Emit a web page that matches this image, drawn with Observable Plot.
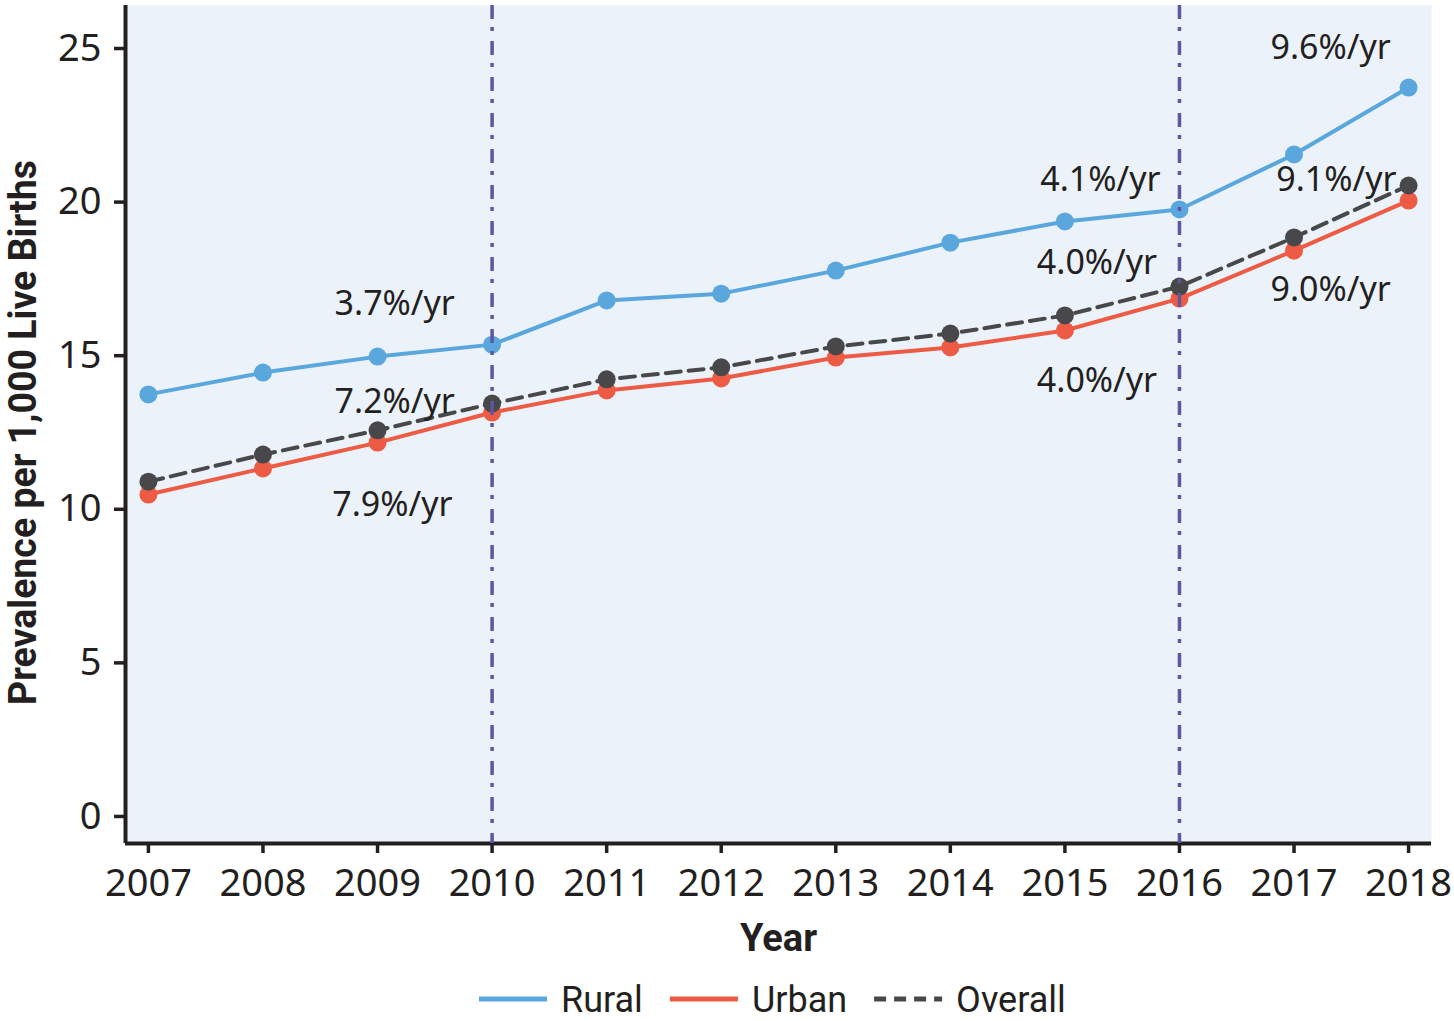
<!DOCTYPE html>
<html>
<head>
<meta charset="utf-8">
<script src="https://cdn.jsdelivr.net/npm/d3@7"></script>
<script src="https://cdn.jsdelivr.net/npm/@observablehq/plot@0.6"></script>
<style>
  body { margin: 0; background: white; }
  #wrap { position: relative; width: 1454px; height: 1021px; overflow: hidden; }
  svg { display: block; }
</style>
</head>
<body>
<div id="wrap">
  <div id="chart"></div>
  <div id="legend"></div>
</div>
<script>
const years = [2007, 2008, 2009, 2010, 2011, 2012, 2013, 2014, 2015, 2016, 2017, 2018];
const rural = [13.74, 14.45, 14.97, 15.36, 16.80, 17.02, 17.77, 18.68, 19.37, 19.76, 21.55, 23.73];
const urban = [10.48, 11.33, 12.17, 13.15, 13.87, 14.26, 14.94, 15.27, 15.82, 16.86, 18.42, 20.05];
const overall = [10.90, 11.78, 12.57, 13.44, 14.23, 14.62, 15.30, 15.72, 16.31, 17.25, 18.85, 20.54];
const yTicks = [0, 5, 10, 15, 20, 25];
const breakYears = [2010, 2016];
const seriesNames = ["Rural", "Urban", "Overall"];
const seriesColors = ["#5AA7DD", "#EE5B45", "#48484A"];
const annoText = ["3.7%/yr", "7.2%/yr", "7.9%/yr", "4.1%/yr", "4.0%/yr", "4.0%/yr", "9.6%/yr", "9.1%/yr", "9.0%/yr"];
const annoX = [2009.15, 2009.15, 2009.13, 2015.31, 2015.28, 2015.28, 2017.32, 2017.37, 2017.32];
const annoY = [16.67, 13.48, 10.12, 20.70, 18.00, 14.16, 25.00, 20.70, 17.12];
const yTitle = "Prevalence per 1,000 Live Births";
const xTitle = "Year";

const xDomain = [2006.8, 2018.2];
const yDomain = [-0.88, 26.4];

const toRows = (vals) => years.map((yr, i) => ({year: yr, value: vals[i]}));
const ruralRows = toRows(rural), urbanRows = toRows(urban), overallRows = toRows(overall);
const annos = annoText.map((t, i) => ({t, x: annoX[i], y: annoY[i]}));
const ink = "#231f20";
const condensed = "Roboto, 'Noto Sans', sans-serif";

const chart = Plot.plot({
  width: 1454, height: 965,
  marginLeft: 125, marginRight: 23, marginTop: 5, marginBottom: 122,
  x: {domain: xDomain},
  y: {domain: yDomain},
  style: {fontFamily: "'Noto Sans', sans-serif", fontSize: "38px", color: ink, background: "white", overflow: "visible"},
  marks: [
    Plot.frame({fill: "#ECF2FA", stroke: null}),
    Plot.axisY({ticks: yTicks, tickSize: 11, tickPadding: 13, tickFormat: d => String(d), strokeWidth: 3.5, stroke: ink, fill: ink, label: null}),
    Plot.axisX({ticks: years, tickSize: 10, tickPadding: 16, tickFormat: d => String(d), strokeWidth: 3.5, stroke: ink, fill: ink, label: null}),
    Plot.ruleX([xDomain[0]], {stroke: ink, strokeWidth: 4}),
    Plot.ruleY([yDomain[0]], {stroke: ink, strokeWidth: 4}),
    Plot.line(ruralRows, {x: "year", y: "value", stroke: seriesColors[0], strokeWidth: 4}),
    Plot.dot(ruralRows, {x: "year", y: "value", fill: seriesColors[0], r: 9}),
    Plot.line(urbanRows, {x: "year", y: "value", stroke: seriesColors[1], strokeWidth: 4}),
    Plot.dot(urbanRows, {x: "year", y: "value", fill: seriesColors[1], r: 9}),
    Plot.line(overallRows, {x: "year", y: "value", stroke: seriesColors[2], strokeWidth: 4, strokeDasharray: "15,8"}),
    Plot.dot(overallRows, {x: "year", y: "value", fill: seriesColors[2], r: 9}),
    Plot.ruleX(breakYears, {stroke: "#5F56A2", strokeWidth: 3.5, strokeDasharray: "14,8,4,10"}),
    Plot.text(annos, {x: "x", y: "y", text: "t", fontSize: 34, fill: ink}),
    Plot.text([xTitle], {frameAnchor: "bottom", dy: 107, fontSize: 38, fontWeight: "bold", fill: ink, fontFamily: condensed}),
    Plot.text([yTitle], {frameAnchor: "left", textAnchor: "middle", dx: -102, dy: 8, rotate: -90, fontSize: 38, fontWeight: "bold", fill: ink, fontFamily: condensed})
  ]
});
document.getElementById("chart").appendChild(chart);
d3.select(chart).selectAll("text").filter(function() { return this.textContent === yTitle; })
  .attr("textLength", 545).attr("lengthAdjust", "spacingAndGlyphs");

// legend
const lg = d3.select("#legend").append("svg").attr("width", 1454).attr("height", 56)
  .style("font-family", condensed).style("font-size", "36px");
let cx = 479;
seriesNames.forEach((name, i) => {
  lg.append("line").attr("x1", cx).attr("x2", cx + 68).attr("y1", 34).attr("y2", 34)
    .attr("stroke", seriesColors[i]).attr("stroke-width", 5)
    .attr("stroke-dasharray", i === 2 ? "12,8" : null);
  cx += 68 + 14;
  const t = lg.append("text").attr("x", cx).attr("y", 34).attr("dy", "0.36em").attr("fill", ink).text(name);
  cx += t.node().getComputedTextLength() + 27;
});
</script>
</body>
</html>
